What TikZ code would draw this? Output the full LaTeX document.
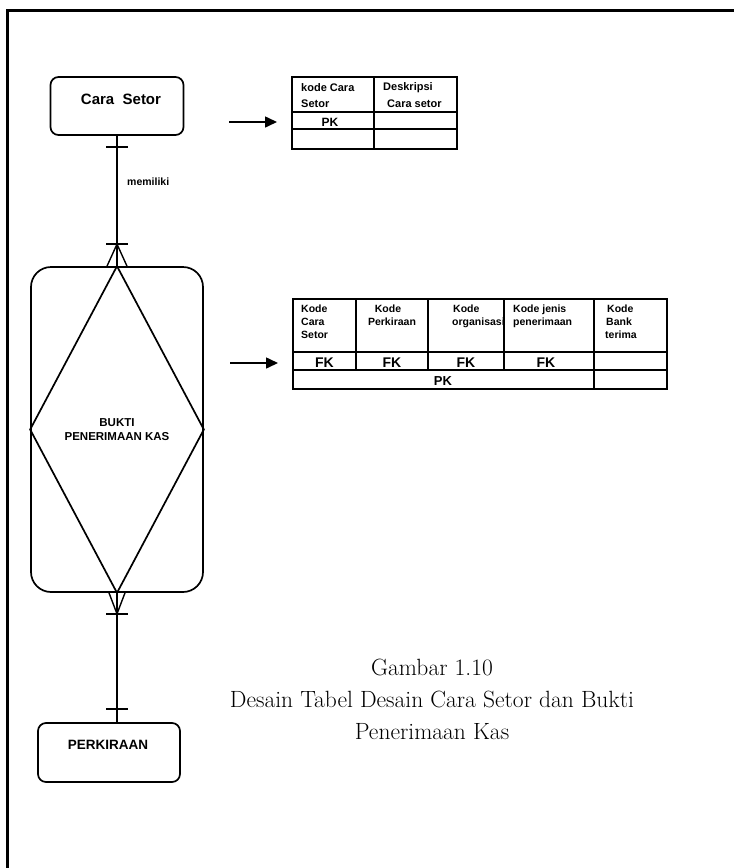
\documentclass[tikz,border=0pt]{standalone}
\usepackage{fontspec}
\newfontfamily\diagfont{Liberation Sans}
\usetikzlibrary{calc,arrows.meta}

\tikzset{
  entity/.style={draw, line width=1.7pt, rounded corners=8pt, inner sep=0pt},
  bigentity/.style={draw, line width=1.7pt, rounded corners=20pt, inner sep=0pt,
    align=center, font=\diagfont\bfseries\fontsize{11.5}{13.5}\selectfont},
  rel/.style={line width=1.4pt},
  tick/.style={line width=1.7pt},
  grid/.style={line width=1.6pt},
  pointer/.style={line width=1.6pt, -{Triangle[length=12pt,width=11pt]}},
  lbl/.style={inner sep=0pt, font=\diagfont\bfseries\fontsize{15}{17}\selectfont},
  hdr/.style={inner sep=0pt, anchor=base west, font=\diagfont\bfseries\fontsize{10.5}{13}\selectfont},
  hdrc/.style={hdr, anchor=base},
  key/.style={inner sep=0pt, anchor=base, font=\diagfont\bfseries\fontsize{14}{16}\selectfont},
  keysm/.style={key, font=\diagfont\bfseries\fontsize{12}{14}\selectfont},
  capline/.style={inner sep=0pt, anchor=base, font=\fontsize{23.5}{30}\selectfont},
}

\begin{document}
\begin{tikzpicture}[x=1pt, y=-1pt]
\useasboundingbox (0,0) rectangle (734,868);

% page frame (left and top edges)
\draw[line width=3pt] (7,868) -- (7,10) -- (734,10);

% ---------- entities ----------
\node[entity, minimum width=133pt, minimum height=58pt] (cs) at (117,106) {};
\node[lbl] (csl) at (121,99) {Cara\ \ Setor};

\node[bigentity, minimum width=172pt, minimum height=325pt] (bkas) at (117,429.5)
  {BUKTI\\PENERIMAAN KAS};
\draw[line width=1.7pt] (bkas.north) -- (bkas.east) -- (bkas.south) -- (bkas.west) -- cycle;

\node[entity, minimum width=142pt, minimum height=59pt] (pk) at (109,752.5) {};
\node[lbl, font=\diagfont\bfseries\fontsize{13.5}{15}\selectfont] (pkl) at (108,745) {PERKIRAAN};

% ---------- relationship Cara Setor -- Bukti Penerimaan Kas ----------
\coordinate (topfoot) at ($(bkas.north)+(0,-22)$);
\draw[rel] (cs.south) -- (bkas.north);
\draw[tick] ($(cs.south)+(-11,11)$) -- ++(22,0);
\draw[tick] ($(topfoot)+(-11,0)$) -- ++(22,0);
\draw[rel] ($(bkas.north)+(-10,0)$) -- (topfoot) -- ($(bkas.north)+(10,0)$);
\node[inner sep=0pt, anchor=west, font=\diagfont\bfseries\fontsize{10.5}{12}\selectfont] (rell) at (127,182) {memiliki};

% ---------- relationship Bukti Penerimaan Kas -- Perkiraan ----------
\coordinate (botfoot) at ($(bkas.south)+(0,21)$);
\coordinate (pktop) at (botfoot |- pk.north);
\draw[rel] ($(bkas.south)+(-8,0)$) -- (botfoot) -- ($(bkas.south)+(8,0)$);
\draw[rel] (bkas.south) -- (pktop);
\draw[tick] ($(botfoot)+(-11,0)$) -- ++(22,0);
\draw[tick] ($(pktop)+(-11,-13)$) -- ++(22,0);

% ---------- table: Cara Setor ----------
\coordinate (t1) at (292,122);
\coordinate (a1) at (229,122);
\draw[pointer] (a1) -- ($(t1)+(-15,0)$);
\draw[grid] (292,77) rectangle (457,149);
\draw[grid] (374,77) -- (374,149);
\draw[grid] (292,112) -- (457,112);
\draw[grid] (292,129) -- (457,129);
\node[hdr, font=\diagfont\bfseries\fontsize{11}{13}\selectfont] (t1a) at (301,91) {kode Cara};
\node[hdr, font=\diagfont\bfseries\fontsize{11}{13}\selectfont] (t1b) at (301,107) {Setor};
\node[hdr, font=\diagfont\bfseries\fontsize{11}{13}\selectfont] (t1c) at (383,90) {Deskripsi};
\node[hdr, font=\diagfont\bfseries\fontsize{11}{13}\selectfont] (t1d) at (387,107) {Cara setor};
\node[keysm] (t1pk) at (330,126) {PK};

% ---------- table: Bukti Penerimaan Kas ----------
\coordinate (t2) at (293,363);
\coordinate (a2) at (230,363);
\draw[pointer] (a2) -- ($(t2)+(-15,0)$);
\draw[grid] (293,299) rectangle (667,389);
\draw[grid] (293,352) -- (667,352);
\draw[grid] (293,370) -- (667,370);
\foreach \cx in {356,428,504} \draw[grid] (\cx,299) -- (\cx,370);
\draw[grid] (594,299) -- (594,389);
\node[hdr] (c1a) at (301,312) {Kode};
\node[hdr] (c1b) at (301,325) {Cara};
\node[hdr] (c1c) at (301,338) {Setor};
\node[hdrc] (c2a) at (388,312) {Kode};
\node[hdrc] (c2b) at (392,325) {Perkiraan};
\node[hdr] (c3a) at (453,312) {Kode};
\node[hdr] (c3b) at (452,325) {organisasi};
\node[hdr] (c4a) at (513,312) {Kode jenis};
\node[hdr] (c4b) at (513,325) {penerimaan};
\node[hdr] (c5a) at (607,312) {Kode};
\node[hdr] (c5b) at (606,325) {Bank};
\node[hdr] (c5c) at (605,338) {terima};
\node[key] (f1) at (324.5,367) {FK};
\node[key] (f2) at (392,367) {FK};
\node[key] (f3) at (466,367) {FK};
\node[key] (f4) at (546,367) {FK};
\node[key, font=\diagfont\bfseries\fontsize{13}{15}\selectfont] (t2pk) at (443,385) {PK};

% ---------- caption ----------
\node[capline] (cap1) at (432,675) {Gambar 1.10};
\node[capline] (cap2) at (432,707) {Desain Tabel Desain Cara Setor dan Bukti};
\node[capline] (cap3) at (432,739) {Penerimaan Kas};
\end{tikzpicture}
\end{document}
